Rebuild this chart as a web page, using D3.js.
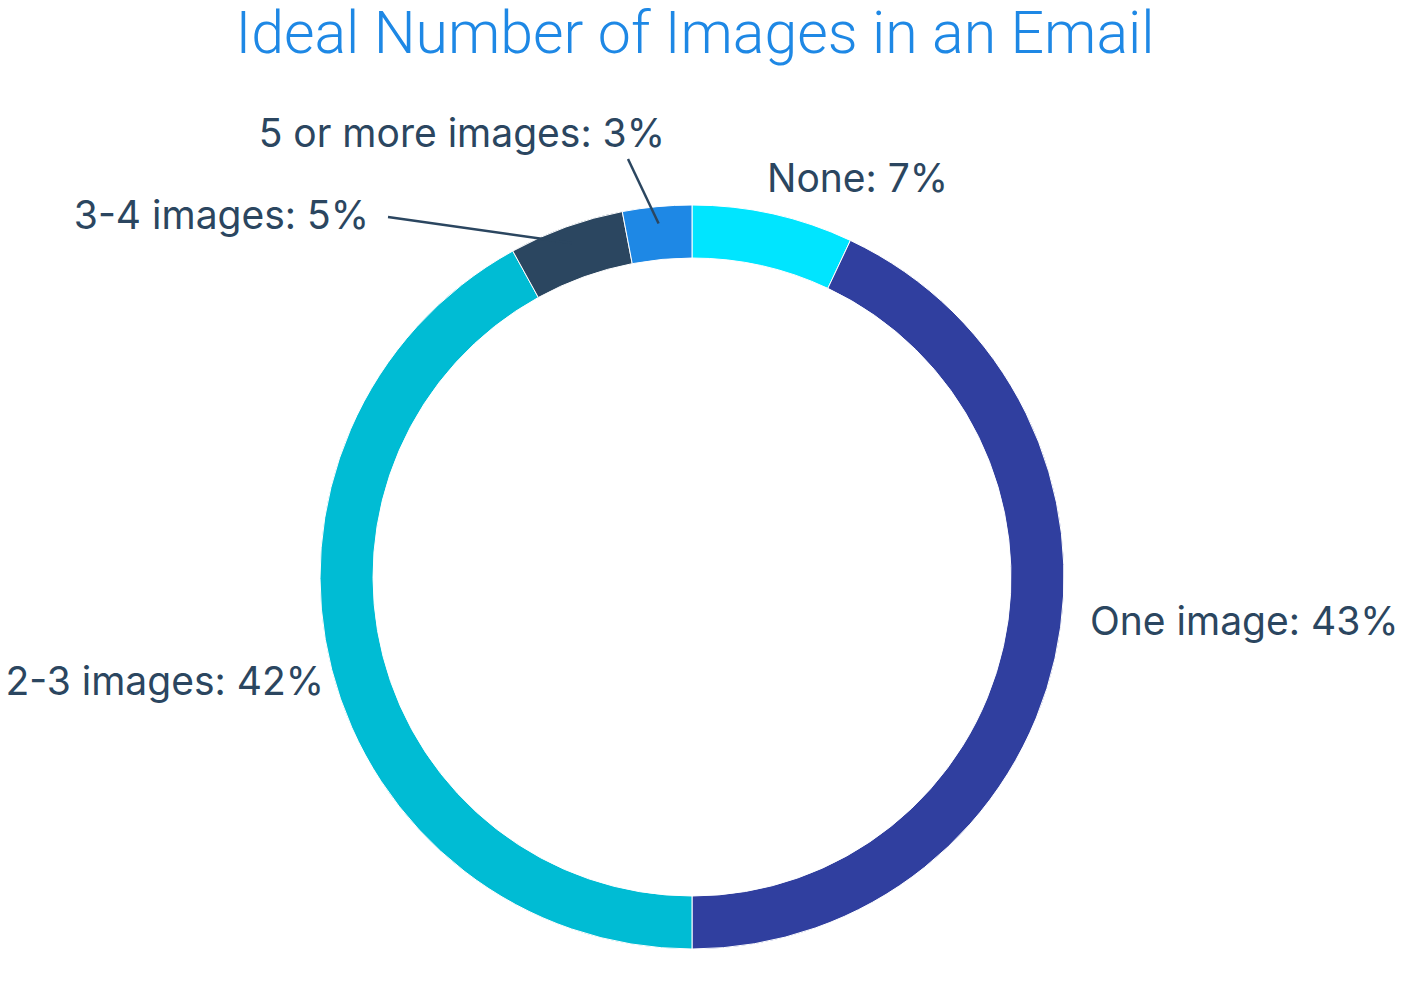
<!DOCTYPE html>
<html>
<head>
<meta charset="utf-8">
<script src="https://cdn.jsdelivr.net/npm/d3@7/dist/d3.min.js"></script>
<style>
  html, body { margin: 0; padding: 0; background: #ffffff; }
  svg { display: block; }
</style>
</head>
<body>
<svg id="chart" width="1404" height="988"></svg>
<script>
// ---- data ----
const categories = ["None", "One image", "2-3 images", "3-4 images", "5 or more images"];
const values = [7, 43, 42, 5, 3];
const colors = ["#00E5FF", "#303F9F", "#00BCD4", "#2B4660", "#1E88E5"];
const title = "Ideal Number of Images in an Email";

// ---- layout (separate from data) ----
const W = 1404, H = 988;
const cx = 692, cy = 577;
const outerR = 372, innerR = 319;
const textColor = "#2B4660";
// label placement relative to the donut centre
const labelLayout = [
  { dx: 75,   dy: -385, anchor: "start", line: null },
  { dx: 398,  dy: 58,   anchor: "start", line: null },
  { dx: -368, dy: 118,  anchor: "end",   line: null },
  { dx: -323, dy: -348, anchor: "end",   line: [-304, -360] },
  { dx: -27,  dy: -430, anchor: "end",   line: [-64, -418] }
];

const svg = d3.select("#chart");

svg.append("text")
  .attr("x", 695)
  .attr("y", 53)
  .attr("text-anchor", "middle")
  .style("font-family", "Roboto, 'Open Sans', sans-serif")
  .style("font-weight", 300)
  .style("font-size", "59px")
  .style("fill", "#1E88E5")
  .text(title);

const data = categories.map((c, i) => ({ name: c, value: values[i], color: colors[i], layout: labelLayout[i] }));

const pie = d3.pie().sort(null).value(d => d.value);
const arc = d3.arc().innerRadius(innerR).outerRadius(outerR);
const arcs = pie(data);

const g = svg.append("g").attr("transform", `translate(${cx},${cy})`);

g.selectAll("path.slice")
  .data(arcs)
  .join("path")
  .attr("class", "slice")
  .attr("d", arc)
  .attr("fill", d => d.data.color)
  .attr("stroke", "#ffffff")
  .attr("stroke-width", 1);

// connectors
const connR = 355;
g.selectAll("line.conn")
  .data(arcs.filter(d => d.data.layout.line))
  .join("line")
  .attr("class", "conn")
  .attr("x1", d => d.data.layout.line[0])
  .attr("y1", d => d.data.layout.line[1])
  .attr("x2", d => { const a = (d.startAngle + d.endAngle) / 2; return Math.sin(a) * connR; })
  .attr("y2", d => { const a = (d.startAngle + d.endAngle) / 2; return -Math.cos(a) * connR; })
  .attr("stroke", textColor)
  .attr("stroke-width", 2.5);

g.selectAll("text.lbl")
  .data(arcs)
  .join("text")
  .attr("class", "lbl")
  .attr("x", d => d.data.layout.dx)
  .attr("y", d => d.data.layout.dy)
  .attr("text-anchor", d => d.data.layout.anchor)
  .style("font-family", "Inter, Roboto, sans-serif")
  .style("font-size", "39px")
  .style("fill", textColor)
  .text(d => `${d.data.name}: ${d.data.value}%`);
</script>
</body>
</html>
